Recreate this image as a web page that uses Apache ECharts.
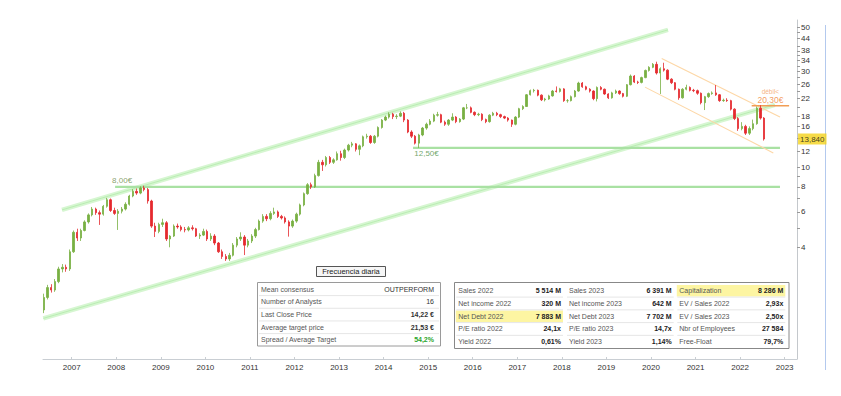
<!DOCTYPE html>
<html><head><meta charset="utf-8">
<script src="https://cdn.jsdelivr.net/npm/echarts@6/dist/echarts.min.js"></script>
<style>html,body{margin:0;padding:0;background:#fff}#c{width:841px;height:396px}</style>
</head><body><div id="c"></div>
<script>
// ---------- DATA (monthly candles) ----------
const startMonth = 4;           // months after Jan 2006 (May 2006)
const firstOpen = 1.95;
const closes = [
2.25,2.52,2.45,2.70,3.12,3.18,3.12,3.80,4.75,4.45,
4.85,5.35,5.80,6.20,5.95,5.85,6.40,6.90,6.10,5.90,
6.05,6.20,6.55,7.20,7.60,7.45,7.90,7.75,6.80,5.10,
4.80,5.20,5.30,4.40,4.55,5.10,5.05,4.90,4.88,5.00,
4.95,4.55,4.60,4.80,4.40,4.55,4.20,3.80,3.60,3.50,
3.65,4.10,4.40,4.50,4.10,4.30,4.55,4.90,5.40,5.70,
5.55,5.90,6.00,5.70,5.60,5.35,5.10,5.40,5.85,6.50,
7.40,8.20,8.00,9.10,10.6,10.3,11.2,10.6,10.9,11.7,
11.2,12.2,12.9,13.1,12.3,12.8,14.2,14.3,13.3,14.3,
15.8,17.2,17.8,18.4,17.9,18.0,18.6,17.2,15.0,14.3,
13.2,14.5,15.7,16.4,17.0,18.2,18.3,16.8,16.4,17.2,
17.8,16.9,17.4,19.8,19.8,18.8,18.3,18.4,17.3,16.9,
18.2,18.6,18.3,17.9,17.6,17.2,16.4,17.8,19.6,20.1,
23.0,24.1,24.2,22.9,21.7,21.9,22.7,24.0,23.9,24.6,
21.5,21.5,22.5,24.0,26.3,25.2,24.5,24.0,22.0,25.0,
24.5,23.2,22.2,23.5,24.0,23.3,22.6,25.8,28.5,26.6,
26.5,28.0,30.4,31.5,32.6,29.5,31.0,30.5,27.5,26.4,
24.5,22.2,24.5,25.0,24.2,24.1,23.4,21.0,22.5,23.3,
23.5,23.0,21.5,21.6,21.5,19.5,17.5,15.6,16.0,14.8,
15.6,16.5,19.7,17.6,13.84];
const highs = [
2.35,2.60,2.62,2.78,3.20,3.30,3.28,3.90,4.85,4.95,
4.95,5.45,5.90,6.35,6.30,6.10,6.50,7.05,7.00,6.30,
6.20,6.35,6.70,7.30,7.80,7.85,8.05,8.10,7.90,6.90,
5.30,5.30,5.55,5.40,4.60,5.20,5.25,5.15,5.05,5.10,
5.15,5.00,4.70,4.95,4.90,4.70,4.65,4.25,3.90,3.70,
3.75,4.20,4.50,4.75,4.60,4.40,4.65,5.00,5.50,5.85,
5.85,6.05,6.30,6.10,5.80,5.70,5.45,5.50,5.95,6.60,
7.50,8.35,8.40,9.30,10.9,10.9,11.4,11.4,11.1,12.0,
12.1,12.4,13.1,13.4,13.2,13.0,14.4,14.7,14.5,14.5,
16.0,17.4,18.1,18.8,18.7,18.4,19.0,18.9,17.4,15.3,
14.5,14.7,15.9,16.7,17.4,18.5,18.9,18.5,17.1,17.4,
18.6,18.0,17.6,20.0,20.7,20.1,19.0,18.7,18.6,17.5,
18.4,18.9,18.9,18.5,18.1,17.8,17.3,18.0,19.8,20.4,
23.2,24.4,24.6,24.4,23.1,22.2,23.0,24.3,25.3,24.9,
24.8,21.9,22.8,24.3,26.7,26.6,25.5,24.8,24.2,25.3,
25.4,24.7,23.4,23.8,24.4,24.2,23.5,26.0,29.0,28.8,
27.0,28.3,30.7,31.9,33.1,33.6,31.5,33.2,30.8,27.8,
26.6,24.7,24.8,25.8,25.3,24.6,24.4,23.6,22.7,23.6,
23.9,25.7,23.2,22.0,22.1,21.7,19.7,17.8,16.8,16.3,
16.0,17.3,20.1,20.4,17.8];
const lows = [
1.88,2.20,2.38,2.40,2.65,3.00,3.02,3.05,3.75,4.30,
4.30,4.80,5.25,5.70,5.80,5.17,5.75,6.30,6.00,5.80,
4.88,5.90,6.10,6.45,7.10,7.30,7.35,7.60,6.60,5.00,
4.50,4.70,5.05,4.30,4.00,4.50,4.95,4.80,4.75,4.80,
4.85,4.50,4.40,4.55,4.30,4.30,4.10,3.75,3.50,3.42,
3.42,3.60,4.00,4.30,3.66,4.00,4.20,4.45,4.85,5.30,
5.40,5.45,5.80,5.60,5.50,5.25,4.52,5.00,5.30,5.75,
6.40,7.30,7.80,7.90,9.00,9.60,10.1,10.4,10.4,10.8,
10.8,11.0,12.0,12.6,12.0,11.5,12.6,13.9,13.1,13.1,
14.1,15.6,17.0,17.5,17.4,17.4,17.8,16.8,14.8,14.0,
13.0,12.5,14.3,15.4,16.2,16.8,17.9,16.6,16.1,16.1,
17.0,16.6,16.7,17.2,19.5,18.6,18.0,18.0,17.0,16.6,
16.7,18.0,18.0,17.6,17.4,16.9,15.9,16.2,17.6,19.3,
20.0,22.8,23.6,22.6,21.4,21.3,21.7,22.5,23.6,23.6,
21.2,21.0,21.3,22.3,23.8,24.9,24.2,23.6,21.6,21.3,
24.2,23.0,21.9,22.0,23.2,23.0,22.3,22.4,25.6,26.3,
26.0,26.2,27.8,30.0,31.2,29.0,23.2,30.0,27.2,26.0,
24.2,21.7,22.0,24.2,23.9,23.7,23.0,20.6,19.3,22.2,
23.0,22.7,21.2,21.2,21.2,19.2,17.2,15.2,15.3,14.5,
14.5,15.3,16.3,17.3,13.6];

const axisStart = 2006.356, axisEnd = 2023.277;   // decimal years
const priceMin = 1.111, priceMax = 54.2;
const yearTicks = [2007,2008,2009,2010,2011,2012,2013,2014,2015,2016,2017,2018,2019,2020,2021,2022,2023];
const priceLabels = [4,6,8,10,12,16,18,22,26,30,34,38,44,50];
const priceTicks = [4,5,6,7,8,9,10,12,14,16,18,20,22,24,26,28,30,32,34,36,38,40,44,47,50];

// trend lines [decimal year, price]
const channelUpper = [[2006.782, 6.14], [2020.382, 48.4]];
const channelLower = [[2006.363, 1.77], [2022.78, 20.5]];
const trendUpper = [[2020.241, 34.9], [2022.895, 17.8]];
const trendLower = [[2019.866, 25.1], [2022.745, 11.8]];
const support8 = [[2007.974, 8.0], [2022.895, 8.0]];
const support125 = [[2014.66, 12.5], [2022.895, 12.5]];
const resist203 = [[2022.26, 20.3], [2023.10, 20.3]];
const lastPrice = 13.84;

const consensusLabels = ['Mean consensus','Number of Analysts','Last Close Price','Average target price','Spread / Average Target'];
const consensusValues = ['OUTPERFORM','16','14,22 €','21,53 €','54,2%'];
const fundLabels = [
  ['Sales 2022','Net income 2022','Net Debt 2022','P/E ratio 2022','Yield 2022'],
  ['Sales 2023','Net income 2023','Net Debt 2023','P/E ratio 2023','Yield 2023'],
  ['Capitalization','EV / Sales 2022','EV / Sales 2023','Nbr of Employees','Free-Float']];
const fundValues = [
  ['5 514 M','320 M','7 883 M','24,1x','0,61%'],
  ['6 391 M','642 M','7 702 M','14,7x','1,14%'],
  ['8 286 M','2,93x','2,50x','27 584','79,7%']];
const fundHighlight = [[0,2],[2,0]]; // [column,row]

// ---------- BUILD ----------
const FF = '"Liberation Sans", Arial, sans-serif';
const candles = closes.map((c, i) => {
  const o = i === 0 ? firstOpen : closes[i-1];
  return [2006 + (startMonth + i + 0.5) / 12, o, c, lows[i], highs[i]];
});
const fmt = v => String(Math.round(v));

function txt(x, y, t, opt) {
  const st = Object.assign({text: t, fontSize: 7, fontFamily: FF, fill: '#555', align: 'left', verticalAlign: 'middle'}, opt || {});
  st.textAlign = st.align; st.textVerticalAlign = st.verticalAlign;
  return {type: 'text', x: x, y: y, silent: true, z: 10, style: st};
}
const graphics = [];
graphics.push({type:'line', silent:true, shape:{x1:825.5,y1:25,x2:825.5,y2:370}, style:{stroke:'#b3c9ee', lineWidth:1}});
// frequency button
graphics.push({type:'rect', silent:true, shape:{x:316.5,y:266.5,width:69,height:10}, style:{fill:'#f6f6f6', stroke:'#555', lineWidth:1}});
graphics.push(txt(351, 271.8, 'Frecuencia diaria', {align:'center', fill:'#222', fontSize:7.5}));
// consensus table
graphics.push({type:'rect', silent:true, shape:{x:257.5,y:282.5,width:183,height:63.5}, style:{fill:'#fff', stroke:'#9a9a9a', lineWidth:1}});
consensusLabels.forEach((l, i) => {
  const y = 289.3 + i * 12.67;
  if (i < 4) graphics.push({type:'line', silent:true, shape:{x1:259,y1:y+6.3,x2:439,y2:y+6.3}, style:{stroke:'#e6e6e6', lineWidth:1}});
  graphics.push(txt(261, y, l));
  graphics.push(txt(434, y, consensusValues[i], {align:'right', fill: i === 4 ? '#2aa52a' : '#333', fontWeight: i >= 2 ? 'bold' : 'normal'}));
});
// fundamentals table
graphics.push({type:'rect', silent:true, shape:{x:454.5,y:282.5,width:334.5,height:66}, style:{fill:'#fff', stroke:'#888', lineWidth:1}});
const colL = [458.3, 569, 679.3], colR = [561, 671.7, 783.3];
fundHighlight.forEach(([c, r]) => {
  graphics.push({type:'rect', silent:true, shape:{x:colL[c]-2.5, y:290.7 + r*12.75 - 5.8, width:colR[c]-colL[c]+4.5, height:11.6}, style:{fill:'#fdf5a2'}});
});
fundLabels.forEach((col, c) => {
  col.forEach((l, r) => {
    const y = 290.7 + r * 12.75;
    if (r < 4) graphics.push({type:'line', silent:true, shape:{x1:colL[c]-2,y1:y+6.4,x2:colR[c]+2,y2:y+6.4}, style:{stroke:'#e6e6e6', lineWidth:1}});
    graphics.push(txt(colL[c], y, l));
    graphics.push(txt(colR[c], y, fundValues[c][r], {align:'right', fill:'#222', fontWeight:'bold'}));
  });
});

function lineSeries(data, color, width, z) {
  return {type:'line', data:data, symbol:'none', silent:true, z:z, animation:false,
    lineStyle:{color:color, width:width}};
}
function labelPoint(pt, label) {
  return {type:'scatter', data:[pt], symbol:'circle', symbolSize:0.1, silent:true, clip:false, z:6,
    itemStyle:{color:'transparent'}, label:Object.assign({show:true, fontFamily:FF}, label)};
}

const option = {
  animation: false,
  backgroundColor: '#fff',
  grid: {left:43, right:44, top:20, bottom:37, containLabel:false, outerBoundsMode:'none'},
  xAxis: {
    type:'value', min:axisStart, max:axisEnd,
    axisLine:{show:true, lineStyle:{color:'#c9ced3', width:1}},
    axisTick:{show:true, inside:true, length:2, customValues:yearTicks, lineStyle:{color:'#c9ced3'}},
    axisLabel:{customValues:yearTicks, formatter:fmt, fontSize:8, color:'#333', fontFamily:FF, margin:4},
    splitLine:{show:false}
  },
  yAxis: {
    type:'log', logBase:10, min:priceMin, max:priceMax, position:'right',
    axisLine:{show:true, lineStyle:{color:'#c4c8cc', width:1}},
    axisTick:{show:true, length:3, customValues:priceTicks, lineStyle:{color:'#999'}},
    axisLabel:{customValues:priceLabels, formatter:fmt, fontSize:8, color:'#333', fontFamily:FF, margin:4},
    splitLine:{show:false}, minorTick:{show:false}
  },
  graphic: graphics,
  series: [
    lineSeries(channelUpper, '#d6f6d1', 4.5, 1),
    lineSeries(channelUpper, '#b3ebab', 0.8, 1),
    lineSeries(channelLower, '#d6f6d1', 4.5, 1),
    lineSeries(channelLower, '#b3ebab', 0.8, 1),
    lineSeries(support8, '#a9e1a3', 2.2, 2),
    lineSeries(support125, '#a9e1a3', 2.2, 2),
    lineSeries(trendUpper, '#fdd7a6', 1.1, 2),
    lineSeries(trendLower, '#fdd7a6', 1.1, 2),
    lineSeries(resist203, '#f29d55', 1.5, 2),
    {
      type:'candlestick', data:candles, barWidth:1.9, z:3, silent:true,
      itemStyle:{color:'#78b043', color0:'#e52a2e', borderColor:'#78b043', borderColor0:'#e52a2e', borderWidth:0.8}
    },
    labelPoint(support8[0], {formatter:'8,00€', position:'top', distance:2, offset:[7,0], fontSize:8, color:'#6b8a48'}),
    labelPoint(support125[0], {formatter:'12,50€', position:'bottom', distance:2, offset:[13.5,0], fontSize:8, color:'#4f8f46'}),
    labelPoint([(resist203[0][0] + resist203[1][0]) / 2, resist203[0][1]], {
      formatter:'{a|débil<}\n{b|' + resist203[0][1].toFixed(2).replace('.', ',') + '€}', position:'top', distance:1,
      rich:{a:{fontSize:6.5, color:'#f3a061', fontFamily:FF, lineHeight:8}, b:{fontSize:8.5, color:'#ef8432', fontFamily:FF, lineHeight:9}}}),
    labelPoint([axisEnd, lastPrice], {formatter: lastPrice.toFixed(3).replace('.', ','), position:'right', distance:1,
      fontSize:8, color:'#111', backgroundColor:'#f4d21a', padding:[2,2,1,2]})
  ]
};
const chart = echarts.init(document.getElementById('c'), null, {renderer:'svg', width:841, height:396});
chart.setOption(option);
</script>
</body></html>
